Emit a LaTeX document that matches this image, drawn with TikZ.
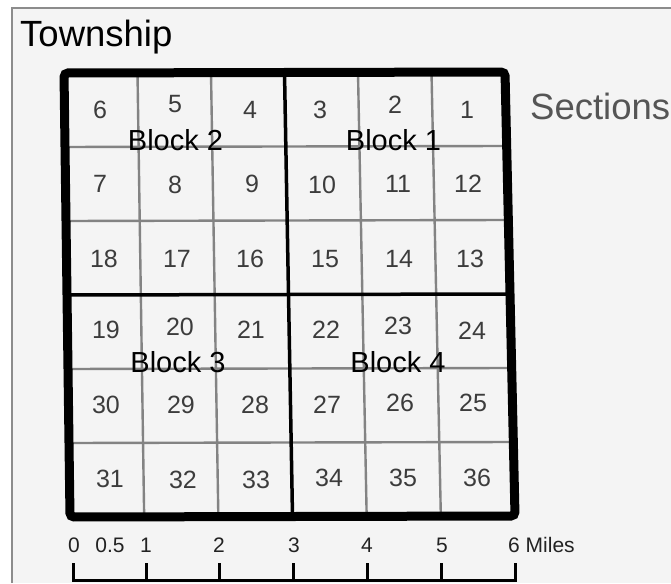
\documentclass[tikz,border=0pt]{standalone}
\usepackage{fontspec}
\setmainfont{Liberation Sans}
\usepackage{xcolor}
\definecolor{panel}{HTML}{F4F4F4}
\definecolor{framegray}{HTML}{8C8C8C}
\definecolor{secgray}{HTML}{838383}
\definecolor{numtext}{HTML}{3C3C3C}
\definecolor{sectext}{HTML}{555555}
\definecolor{scaletext}{HTML}{222222}
\usetikzlibrary{calc}

\begin{document}
\begin{tikzpicture}[
  x=1pt, y=-1pt,
  secnum/.style={text=numtext, inner sep=0pt, font=\fontsize{25}{25}\selectfont},
  blocklabel/.style={anchor=base, inner sep=0pt, font=\fontsize{29}{29}\selectfont},
  scalelabel/.style={anchor=base, inner sep=0pt, text=scaletext, font=\fontsize{21}{21}\selectfont},
  secline/.style={draw=secgray, line width=2.4pt},
  blockline/.style={draw=black, line width=3.5pt},
  scalebar/.style={draw=black, line width=3pt}
]
  \useasboundingbox (0,0) rectangle (671,583);
  \fill[white] (0,0) rectangle (671,583);
  \fill[panel] (12,8) rectangle (671,583);
  \draw[framegray, line width=2pt] (12,583) -- (12,8) -- (671,8);

  \node[anchor=base west, inner sep=0pt, font=\fontsize{36.5}{36.5}\selectfont] (title) at (20,47) {Township};
  \node[anchor=base west, inner sep=0pt, text=sectext, font=\fontsize{36.5}{36.5}\selectfont] (sections) at (530,120) {Sections};

  % township corners
  \coordinate (tl) at (64,73);
  \coordinate (tr) at (505,72);
  \coordinate (br) at (515,516);
  \coordinate (bl) at (70,517);

  % section lines, then block lines
  \foreach \f in {1,2,4,5} {
    \draw[secline] ($(tl)!\f/6!(tr)$) -- ($(bl)!\f/6!(br)$);
    \draw[secline] ($(tl)!\f/6!(bl)$) -- ($(tr)!\f/6!(br)$);
  }
  \draw[blockline] ($(tl)!0.5!(tr)$) -- ($(bl)!0.5!(br)$);
  \draw[blockline] ($(tl)!0.5!(bl)$) -- ($(tr)!0.5!(br)$);
  \draw[line width=9pt, rounded corners=4pt] (tl) -- (tr) -- (br) -- (bl) -- cycle;

  % section numbers
  \foreach \n/\px/\py in {6/100/110, 5/175/104, 4/250/110, 3/320/110, 2/395/105, 1/467/110,
      7/100/184, 8/175/185, 9/252/184, 10/322/185, 11/398/184, 12/468/184,
      18/104/259, 17/177/259, 16/250/259, 15/325/259, 14/399/259, 13/470/259,
      19/106/330, 20/180/327, 21/251/330, 22/326/330, 23/398/326, 24/472/331,
      30/106/405, 29/181/405, 28/255/405, 27/327/405, 26/400/403, 25/473/403,
      31/110/479, 32/183/480, 33/256/480, 34/329/478, 35/403/478, 36/477/478}
    \node[secnum] (s\n) at (\px,\py) {\n};

  \node[blocklabel] (blk2) at (175.5,150) {Block 2};
  \node[blocklabel] (blk1) at (393.5,150) {Block 1};
  \node[blocklabel] (blk3) at (178,372) {Block 3};
  \node[blocklabel] (blk4) at (398,372) {Block 4};

  % scale bar
  \foreach \i/\px in {0/73, 1/146, 2/219, 3/293, 4/367, 5/441, 6/515} {
    \coordinate (m\i) at (\px,580);
    \draw[scalebar] (m\i) -- ++(0,-17);
  }
  \draw[scalebar, line cap=rect] (m0) -- (m6);
  \foreach \t/\px in {0/74, 0.5/110, 1/146, 2/219, 3/294, 4/367, 5/442}
    \node[scalelabel] (l\t) at (\px,552) {\t};
  \node[scalelabel, anchor=base west] (l6) at (508,552) {6 Miles};
\end{tikzpicture}
\end{document}
